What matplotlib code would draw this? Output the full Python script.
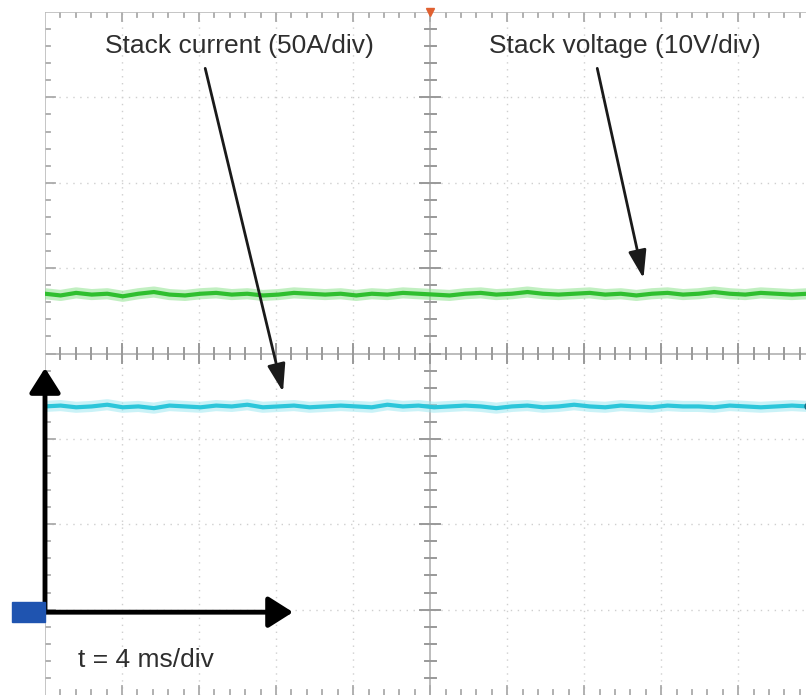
import numpy as np
import matplotlib.pyplot as plt
from matplotlib.patches import Rectangle

# scope screen in divisions: 4 ms/div horizontally, 8 divisions vertically
time_ms = np.linspace(0, 39.6, 50)

# stack voltage trace (div), 10 V/div
voltage_div = [4.70, 4.68, 4.71, 4.69, 4.70, 4.67, 4.70, 4.72, 4.69, 4.68,
               4.70, 4.71, 4.69, 4.70, 4.68, 4.69, 4.71, 4.70, 4.69, 4.70,
               4.68, 4.70, 4.69, 4.71, 4.70, 4.69, 4.68, 4.70, 4.71, 4.69,
               4.70, 4.72, 4.70, 4.69, 4.70, 4.71, 4.69, 4.70, 4.68, 4.70,
               4.71, 4.69, 4.70, 4.72, 4.70, 4.69, 4.71, 4.70, 4.69, 4.70]

# stack current trace (div), 50 A/div
current_div = [3.38, 3.39, 3.37, 3.38, 3.40, 3.37, 3.38, 3.36, 3.39, 3.38,
               3.37, 3.39, 3.38, 3.40, 3.37, 3.38, 3.39, 3.37, 3.38, 3.39,
               3.38, 3.37, 3.40, 3.38, 3.39, 3.37, 3.38, 3.39, 3.38, 3.36,
               3.38, 3.39, 3.37, 3.38, 3.40, 3.38, 3.37, 3.39, 3.38, 3.37,
               3.39, 3.38, 3.38, 3.37, 3.39, 3.38, 3.37, 3.38, 3.39, 3.38]

t_per_div = 4.0
x_max = 9.88

fig = plt.figure(figsize=(8.06, 6.99), dpi=100)
ax = fig.add_axes([45 / 806, 4 / 699, 761 / 806, 683 / 699])
ax.set_xlim(0, x_max)
ax.set_ylim(0, 8)
ax.axis('off')

grid_col = '#cfcfcf'
# dotted grid
for gx in range(1, 10):
    if gx != 5:
        ax.plot([gx, gx], [0, 8], color=grid_col, lw=1, ls=(0, (1, 4)))
for gy in range(1, 8):
    if gy != 4:
        ax.plot([0, x_max], [gy, gy], color=grid_col, lw=1, ls=(0, (1, 4)))

# center crosshair with minor ticks
ax.plot([5, 5], [0, 8], color='#b0b0b0', lw=1.2)
ax.plot([0, x_max], [4, 4], color='#b0b0b0', lw=1.2)
for k in np.arange(0.2, x_max, 0.2):
    major = abs(k - round(k)) < 1e-6
    h = 0.11 if major else 0.06
    ax.plot([k, k], [4 - h, 4 + h], color='#999999', lw=1.4)
    ax.plot([k, k], [8, 8 - h], color='#aaaaaa', lw=1.3)
    ax.plot([k, k], [0, h], color='#aaaaaa', lw=1.3)
for k in np.arange(0.2, 8, 0.2):
    major = abs(k - round(k)) < 1e-6
    h = 0.13 if major else 0.07
    ax.plot([5 - h, 5 + h], [k, k], color='#999999', lw=1.4)
    ax.plot([0, h], [k, k], color='#aaaaaa', lw=1.3)
ax.plot([0, x_max], [8, 8], color='#bbbbbb', lw=1.2)
ax.plot([0, 0], [0, 8], color='#bbbbbb', lw=1.2)

# traces
x = time_ms / t_per_div
ax.plot(x, voltage_div, color='#8fe38f', lw=8, alpha=0.55, solid_capstyle='butt')
ax.plot(x, voltage_div, color='#2fbf2f', lw=3)
ax.plot(x, current_div, color='#9fe9f2', lw=8, alpha=0.55, solid_capstyle='butt')
ax.plot(x, current_div, color='#2cc6da', lw=3)
ax.plot([x[-1]], [current_div[-1]], 'o', color='#1b6f86', ms=5, clip_on=False)

# trigger marker and ground reference
ax.plot([5], [8], marker='v', color='#e06030', ms=6, clip_on=False)
ax.add_patch(Rectangle((-33 / 77, 0.97 - 0.12), 33 / 77, 0.24, color='#1f54b0',
                       clip_on=False, zorder=5))

# annotations
txt = dict(fontsize=19, color='#2e2e2e', family='Liberation Sans')
ax.text(2.53, 7.6, 'Stack current (50A/div)', ha='center', va='center', **txt)
ax.text(7.53, 7.6, 'Stack voltage (10V/div)', ha='center', va='center', **txt)
ax.text(0.43, 0.41, 't = 4 ms/div', ha='left', va='center', **txt)

thin = dict(arrowstyle='-|>,head_length=1.7,head_width=0.55', color='#1a1a1a', lw=2,
            shrinkA=0, shrinkB=0)
ax.annotate('', xy=(3.09, 3.55), xytext=(2.08, 7.34), arrowprops=thin)
ax.annotate('', xy=(7.77, 4.88), xytext=(7.17, 7.34), arrowprops=thin)

thick = dict(arrowstyle='-|>,head_length=1.5,head_width=0.95', color='black', lw=3.5,
             shrinkA=0, shrinkB=0)
ax.annotate('', xy=(0, 3.83), xytext=(0, 0.97), arrowprops=thick, annotation_clip=False)
ax.annotate('', xy=(3.22, 0.97), xytext=(0, 0.97), arrowprops=thick, annotation_clip=False)

fig.savefig('out.png', dpi=100)
